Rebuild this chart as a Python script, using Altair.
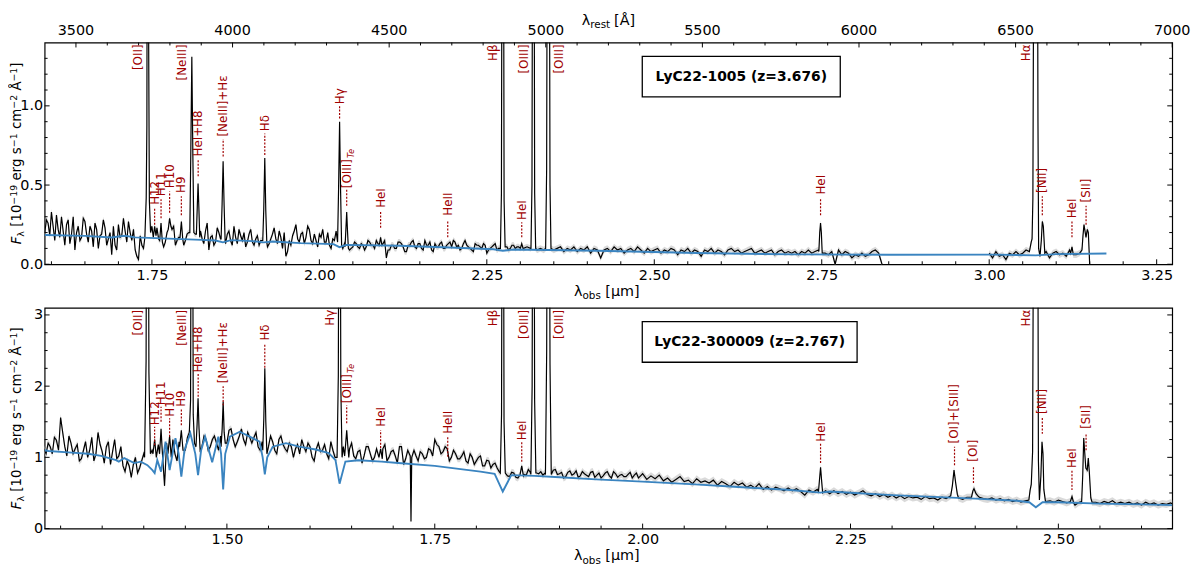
import altair as alt
import pandas as pd

# ---------------- constants / data ----------------
Z_TOP = 3.676
Z_BOT = 2.767
REST_RANGE = [3400.0, 7000.0]
STEP = 0.005
TOP_NAME = "LyC22-1005 (z=3.676)"
BOT_NAME = "LyC22-300009 (z=2.767)"

# ---- top panel (LyC22-1005): observed continuum, two detector segments
top_flux_a_start = 1.590
top_flux_a = [
    0.20, 0.26, 0.33, 0.15, 0.22, 0.30, 0.12, 0.28, 0.19, 0.09,
    0.24, 0.17, 0.27, 0.14, 0.21, 0.26, 0.10, 0.19, 0.23, 0.16,
    0.06, 0.12, 0.25, 0.18, 0.21, 0.27, 0.15, 0.09, 0.03, 0.12,
    0.20, 0.22, 0.24, 0.19, 0.16, 0.22, 0.14, 0.25, 0.22, 0.12,
    0.17, 0.26, 0.15, 0.20, 0.22, 0.19, 0.24, 0.16, 0.21, 0.09,
    0.18, 0.14, 0.20, 0.18, 0.13, 0.21, 0.12, 0.17, 0.22, 0.15,
    0.11, 0.19, 0.14, 0.16, 0.12, 0.18, 0.17, 0.13, 0.19, 0.16,
    0.21, 0.10, 0.05, 0.15, 0.18, 0.25, 0.14, 0.20, 0.17, 0.22,
    0.13, 0.15, 0.19, 0.22, 0.14, 0.12, 0.16, 0.21, 0.12, 0.10,
    0.14, 0.09, 0.11, 0.13, 0.10, 0.12, 0.11, 0.14, 0.12, 0.15,
    0.17, 0.13, 0.04, 0.09, 0.12, 0.10, 0.14, 0.11, 0.08, 0.12,
    0.15, 0.10, 0.13, 0.09, 0.12, 0.14, 0.08, 0.11, 0.13, 0.10,
    0.12, 0.14, 0.15, 0.11, 0.09, 0.13, 0.12, 0.10, 0.08, 0.12,
    0.11, 0.13, 0.07, 0.10, 0.12, 0.09, 0.10, 0.10, 0.11, 0.10,
    0.12, 0.11, 0.12, 0.10, 0.11, 0.10, 0.10, 0.09, 0.10, 0.09,
    0.10, 0.10, 0.09, 0.10, 0.11, 0.08, 0.10, 0.09, 0.11, 0.08,
    0.10, 0.09, 0.11, 0.07, 0.10, 0.09, 0.04, 0.09, 0.10, 0.08,
    0.11, 0.09, 0.10, 0.07, 0.09, 0.10, 0.08, 0.11, 0.09, 0.07,
    0.10, 0.08, 0.09, 0.10, 0.07, 0.09, 0.08, 0.10, 0.09, 0.06,
    0.09, 0.08, 0.10, 0.07, 0.09, 0.08, 0.05, 0.09, 0.08, 0.10,
    0.07, 0.09, 0.08, 0.06, 0.09, 0.10, 0.08, 0.09, 0.07, 0.08,
    0.09, 0.10, 0.07, 0.08, 0.09, 0.07, 0.08, 0.09, 0.06, 0.08,
    0.09, 0.07, 0.08, 0.07, 0.08, 0.06, 0.08, 0.07, 0.09, 0.07,
    0.08, 0.09, 0.08, 0.07, 0.06, 0.08, 0.00, 0.09, 0.06, 0.08,
    0.07, 0.04, 0.06, 0.05, 0.07, 0.05, 0.06, 0.08, 0.09, 0.07,
    0.00,
]
# in-between samples of the noisy blue half of segment A
top_mid_a_start = 1.5925
top_mid_a = [
    0.28, 0.18, 0.24, 0.31, 0.17, 0.21, 0.25, 0.13, 0.30, 0.20,
    0.15, 0.29, 0.19, 0.24, 0.11, 0.22, 0.18, 0.28, 0.12, 0.20,
    0.24, 0.09, 0.17, 0.29, 0.14, 0.20, 0.22, 0.05, 0.18, 0.10,
    0.16, 0.21, 0.13, 0.23, 0.18, 0.11, 0.20, 0.17, 0.24, 0.15,
    0.21, 0.12, 0.19, 0.23, 0.14, 0.18, 0.21, 0.13, 0.26, 0.17,
    0.12, 0.23, 0.16, 0.10, 0.19, 0.15, 0.24, 0.13, 0.18, 0.20,
    0.14, 0.22, 0.12, 0.18, 0.15, 0.20, 0.11, 0.16, 0.23, 0.13,
    0.17, 0.20, 0.08, 0.12, 0.21, 0.16, 0.19, 0.13, 0.24, 0.15,
    0.19, 0.11, 0.17, 0.14, 0.20, 0.10, 0.15, 0.19, 0.08, 0.13,
    0.12, 0.10, 0.14, 0.11, 0.13, 0.09, 0.15, 0.12, 0.10, 0.13,
    0.11, 0.15, 0.09, 0.12, 0.10, 0.14, 0.13, 0.08, 0.12, 0.14,
    0.11, 0.13, 0.10, 0.15, 0.12, 0.09, 0.13, 0.11, 0.14, 0.10,
    0.13, 0.11, 0.14, 0.12, 0.10, 0.15, 0.11, 0.09, 0.13, 0.12,
    0.10, 0.12, 0.09, 0.11, 0.13, 0.10, 0.12, 0.11, 0.09, 0.12,
    0.10, 0.11,
]
top_flux_b_start = 3.000
top_flux_b = [
    0.07, 0.04, 0.08, 0.05, 0.06, 0.03, 0.07, 0.06, 0.08, 0.06,
    0.07, 0.09, 0.08, 0.10, 0.10, 0.08, 0.10, 0.08, 0.04, 0.07,
    0.08, 0.06, 0.07, 0.05, 0.09, 0.08, 0.06, 0.07, 0.12, 0.12,
    0.00,
]
TOP_ERR = 0.02

# emission-line profiles (observed micron, flux)
top_lines = [
    [(1.7395, 0.17), (1.7415, 0.42), (1.7425, 0.88), (1.7432, 3.0), (1.7445, 3.0), (1.7452, 1.36), (1.7462, 0.40), (1.7480, 0.20)],
    [(1.7521, 0.17), (1.7541, 0.24), (1.7561, 0.18)],
    [(1.7616, 0.15), (1.7636, 0.26), (1.7656, 0.14)],
    [(1.7744, 0.22), (1.7764, 0.29), (1.7784, 0.24)],
    [(1.7920, 0.17), (1.7940, 0.27), (1.7960, 0.16)],
    [(1.8066, 0.20), (1.8081, 0.72), (1.8096, 1.31), (1.8111, 0.70), (1.8126, 0.20)],
    [(1.8164, 0.19), (1.8177, 0.36), (1.8189, 0.51), (1.8201, 0.36), (1.8214, 0.17)],
    [(1.8533, 0.16), (1.8548, 0.38), (1.8563, 0.65), (1.8578, 0.37), (1.8593, 0.15)],
    [(1.9155, 0.15), (1.9170, 0.35), (1.9185, 0.67), (1.9200, 0.34), (1.9215, 0.14)],
    [(2.0272, 0.14), (2.0287, 0.48), (2.0302, 0.90), (2.0317, 0.46), (2.0332, 0.12)],
    [(2.0383, 0.11), (2.0396, 0.22), (2.0408, 0.33), (2.0420, 0.21), (2.0433, 0.10)],
    [(2.0894, 0.12), (2.0914, 0.17), (2.0934, 0.12)],
    [(2.2703, 0.10), (2.2718, 0.45), (2.2730, 3.0), (2.2746, 3.0), (2.2758, 0.40), (2.2773, 0.11)],
    [(2.3001, 0.10), (2.3021, 0.13), (2.3041, 0.10)],
    [(2.3159, 0.10), (2.3174, 0.50), (2.3186, 3.0), (2.3202, 3.0), (2.3214, 0.45), (2.3229, 0.10)],
    [(2.3378, 0.10), (2.3393, 0.60), (2.3406, 3.0), (2.3430, 3.0), (2.3443, 0.50), (2.3458, 0.10)],
    [(2.7457, 0.08), (2.7470, 0.20), (2.7482, 0.26), (2.7494, 0.20), (2.7507, 0.07)],
    [(3.0600, 0.08), (3.0627, 0.14), (3.0640, 0.16), (3.0652, 0.41), (3.0672, 3.0), (3.0716, 3.0), (3.0728, 0.90),
     (3.0738, 0.10), (3.0758, 0.05), (3.0778, 0.15), (3.0793, 0.27), (3.0808, 0.24), (3.0830, 0.07)],
    [(3.1216, 0.07), (3.1236, 0.11), (3.1256, 0.06)],
    [(3.1385, 0.09), (3.1400, 0.18), (3.1415, 0.25), (3.1430, 0.21), (3.1445, 0.17), (3.1465, 0.22), (3.1480, 0.20), (3.1492, 0.08)],
]

top_model_w = [1.5898, 1.650, 1.690, 1.700, 1.710, 1.725, 1.775, 1.824, 1.845, 1.856, 1.868, 1.900, 1.917,
               1.930, 1.972, 2.021, 2.030, 2.040, 2.120, 2.194, 2.260, 2.2738, 2.290, 2.416, 2.564, 2.710,
               2.850, 3.007, 3.0696, 3.100, 3.175]
top_model_f = [0.185, 0.179, 0.169, 0.175, 0.180, 0.170, 0.162, 0.154, 0.150, 0.138, 0.152, 0.146, 0.138,
               0.144, 0.133, 0.127, 0.108, 0.122, 0.117, 0.106, 0.095, 0.085, 0.093, 0.085, 0.071, 0.062,
               0.060, 0.061, 0.056, 0.064, 0.068]

# ---- bottom panel (LyC22-300009)
bot_flux_start = 1.280
bot_flux = [
    1.12, 1.20, 1.05, 1.24, 1.56, 1.15, 1.30, 1.05, 1.18, 0.98,
    1.22, 1.10, 0.95, 1.35, 1.08, 1.15, 0.90, 1.25, 1.02, 0.88,
    0.95, 0.72, 1.00, 0.85, 1.05, 0.92, 1.10, 1.02, 1.25, 0.60,
    1.05, 1.25, 0.95, 1.30, 1.10, 1.35, 1.20, 1.30, 1.15, 1.25,
    1.15, 1.30, 1.10, 1.35, 1.20, 1.40, 1.15, 1.30, 1.25, 1.35,
    1.20, 1.35, 1.10, 1.28, 1.15, 1.22, 1.05, 1.30, 1.12, 1.20,
    1.00, 1.18, 1.25, 1.08, 1.15, 0.95, 1.20, 1.10, 1.05, 1.22,
    1.00, 0.85, 1.15, 1.05, 1.20, 0.98, 1.10, 1.02, 1.15, 0.95,
    1.12, 1.05, 1.18, 1.00, 1.10, 0.92, 1.15, 0.98, 1.05, 1.10,
    0.95, 1.05, 1.00, 1.10, 1.25, 1.15, 1.08, 1.12, 1.00, 1.05,
    0.98, 1.08, 0.92, 1.00, 0.95, 1.02, 0.88, 0.95, 0.90, 0.85,
    0.76, 0.80, 0.73, 0.78, 0.71, 0.81, 0.75, 0.79, 0.73, 0.77,
    0.75, 0.80, 0.73, 0.83, 0.77, 0.71, 0.79, 0.75, 0.81, 0.74,
    0.77, 0.73, 0.80, 0.75, 0.71, 0.78, 0.74, 0.80, 0.72, 0.76,
    0.73, 0.79, 0.75, 0.71, 0.77, 0.69, 0.74, 0.70, 0.75, 0.67,
    0.71, 0.65, 0.69, 0.73, 0.66, 0.68, 0.63, 0.70, 0.65, 0.67,
    0.64, 0.68, 0.61, 0.66, 0.63, 0.59, 0.65, 0.61, 0.64, 0.58,
    0.61, 0.57, 0.63, 0.55, 0.59, 0.54, 0.58, 0.56, 0.53, 0.57,
    0.53, 0.56, 0.52, 0.47, 0.54, 0.51, 0.55, 0.50, 0.53, 0.49,
    0.53, 0.49, 0.52, 0.48, 0.51, 0.47, 0.50, 0.53, 0.48, 0.46,
    0.49, 0.45, 0.48, 0.44, 0.47, 0.43, 0.46, 0.42, 0.45, 0.43,
    0.44, 0.41, 0.45, 0.42, 0.43, 0.40, 0.44, 0.42, 0.46, 0.48,
    0.43, 0.41, 0.44, 0.48, 0.46, 0.44, 0.42, 0.41, 0.43, 0.40,
    0.42, 0.39, 0.41, 0.38, 0.40, 0.37, 0.39, 0.36, 0.38, 0.40,
    0.38, 0.36, 0.39, 0.37, 0.40, 0.38, 0.36, 0.39, 0.33, 0.37,
    0.38, 0.36, 0.39, 0.37, 0.35, 0.38, 0.36, 0.39, 0.35, 0.37,
    0.35, 0.37, 0.34, 0.36, 0.33, 0.37, 0.34, 0.36, 0.33, 0.35,
    0.34, 0.36, 0.33,
]
bot_mid_start = 1.2825
bot_mid = [
    1.05, 1.15, 1.28, 1.10, 1.35, 1.02, 1.20, 1.12, 0.95, 1.10,
    1.00, 1.28, 1.05, 1.18, 0.92, 1.22, 1.08, 0.98, 1.15, 0.80,
    0.88, 0.90, 0.78, 0.95, 1.00, 1.15, 0.90, 1.18, 0.85, 1.20,
    1.18, 1.05, 1.22, 1.00, 1.28, 1.12, 1.25, 1.05, 1.30, 1.10,
    1.25, 1.20, 1.30, 1.12, 1.38, 1.25, 1.22, 1.40, 1.18, 1.28,
    1.28, 1.15, 1.22, 1.05, 1.30, 1.10, 1.25, 1.18, 1.08, 1.15,
    1.12, 1.05, 1.15, 1.20, 1.00, 1.12, 1.08, 1.18, 0.98, 1.10,
    1.05, 1.10, 0.95, 1.12, 1.02, 1.08, 0.92, 1.15, 1.05, 1.00,
    1.00, 1.12, 0.95, 1.08, 1.02, 1.15, 0.90, 1.10, 0.95, 1.02,
    1.08, 0.98, 1.12, 1.02, 1.18, 1.05, 1.15, 0.95, 1.10, 0.98,
    1.02, 0.95, 1.05, 0.90, 1.00, 0.88, 0.96, 0.85, 0.92, 0.80,
    0.82, 0.74, 0.79, 0.72, 0.80, 0.76, 0.83, 0.74, 0.78, 0.80,
    0.78, 0.74, 0.82, 0.76, 0.79, 0.73, 0.81, 0.77, 0.72, 0.80,
    0.75, 0.79, 0.72, 0.78, 0.74, 0.80, 0.71, 0.77, 0.75, 0.73,
    0.76, 0.71, 0.78, 0.74,
]
BOT_ERR = 0.05

bot_lines = [
    [(1.4010, 1.00), (1.4028, 2.35), (1.4036, 6.0), (1.4054, 6.0), (1.4062, 2.20), (1.4080, 1.05)],
    [(1.4111, 1.05), (1.4131, 1.25), (1.4151, 1.00)],
    [(1.4190, 1.05), (1.4208, 1.40), (1.4222, 1.10)],
    [(1.4291, 1.05), (1.4311, 1.30), (1.4331, 1.00)],
    [(1.4432, 1.15), (1.4452, 1.38), (1.4472, 1.10)],
    [(1.4548, 1.35), (1.4563, 1.80), (1.4572, 6.0), (1.4586, 6.0), (1.4595, 1.60), (1.4610, 1.20)],
    [(1.4628, 1.15), (1.4641, 1.45), (1.4653, 1.83), (1.4665, 1.40), (1.4678, 1.10)],
    [(1.4930, 1.15), (1.4943, 1.40), (1.4955, 1.78), (1.4967, 1.35), (1.4980, 1.20)],
    [(1.5431, 1.10), (1.5444, 1.55), (1.5456, 2.25), (1.5468, 1.50), (1.5481, 1.05)],
    [(1.6325, 1.00), (1.6340, 2.15), (1.6349, 6.0), (1.6361, 6.0), (1.6370, 2.00), (1.6385, 1.00)],
    [(1.6416, 1.02), (1.6429, 1.20), (1.6441, 1.38), (1.6453, 1.18), (1.6466, 1.00)],
    [(1.6829, 1.00), (1.6849, 1.12), (1.6869, 0.98)],
    [(1.7205, 1.02), (1.7214, 0.10), (1.7223, 1.00)],
    [(1.8288, 0.78), (1.8303, 1.60), (1.8311, 6.0), (1.8325, 6.0), (1.8333, 1.50), (1.8348, 0.78)],
    [(1.8526, 0.76), (1.8546, 0.88), (1.8566, 0.74)],
    [(1.8656, 0.76), (1.8671, 2.00), (1.8679, 6.0), (1.8693, 6.0), (1.8701, 1.80), (1.8716, 0.78)],
    [(1.8831, 0.76), (1.8846, 2.50), (1.8855, 6.0), (1.8877, 6.0), (1.8886, 2.30), (1.8901, 0.76)],
    [(2.2115, 0.52), (2.2128, 0.70), (2.2140, 0.86), (2.2152, 0.68), (2.2165, 0.50)],
    [(2.3705, 0.46), (2.3725, 0.60), (2.3745, 0.82), (2.3765, 0.64), (2.3785, 0.48)],
    [(2.3955, 0.44), (2.3972, 0.53), (2.3985, 0.56), (2.4010, 0.49), (2.4040, 0.45)],
    [(2.4645, 0.40), (2.4660, 0.54), (2.4674, 0.62), (2.4690, 1.08), (2.4705, 6.0), (2.4750, 6.0), (2.4760, 0.95),
     (2.4772, 0.40), (2.4790, 0.75), (2.4803, 1.22), (2.4815, 1.05), (2.4825, 0.55), (2.4845, 0.38)],
    [(2.5144, 0.38), (2.5164, 0.45), (2.5184, 0.36)],
    [(2.5280, 0.38), (2.5293, 0.75), (2.5305, 1.27), (2.5318, 1.05), (2.5330, 0.85), (2.5347, 0.82),
     (2.5360, 0.99), (2.5372, 0.80), (2.5390, 0.43), (2.5405, 0.37)],
]

bot_model_w = [1.2808, 1.2854, 1.3092, 1.3330, 1.3488, 1.3667, 1.3700, 1.3766, 1.3885, 1.3964, 1.4044, 1.4104,
               1.4131, 1.4163, 1.4208, 1.4262, 1.4311, 1.4381, 1.4420, 1.4452, 1.4490, 1.4560, 1.4620, 1.4653,
               1.4690, 1.4738, 1.4823, 1.4897, 1.4930, 1.4955, 1.4980, 1.5036, 1.5155, 1.5274, 1.5393, 1.5430,
               1.5456, 1.5485, 1.5551, 1.5710, 1.5869, 1.6068, 1.6226, 1.6306, 1.6355, 1.6425, 1.6583, 1.6861,
               1.7060, 1.7500, 1.8050, 1.8220, 1.8318, 1.8420, 1.8700, 1.9000, 1.9440, 2.0000, 2.0630, 2.1200,
               2.1740, 2.2140, 2.2250, 2.3000, 2.4000, 2.4500, 2.4650, 2.4729, 2.4810, 2.5000, 2.5500, 2.6000,
               2.6369]
bot_model_f = [1.10, 1.09, 1.07, 1.05, 1.02, 0.96, 0.94, 0.99, 0.92, 0.94, 0.89, 0.82,
               0.78, 0.96, 0.80, 1.22, 0.82, 1.27, 1.05, 0.73, 1.10, 1.34, 1.05, 0.75,
               1.10, 1.29, 0.93, 1.29, 1.05, 0.55, 1.05, 1.29, 1.36, 1.29, 1.22, 1.00,
               0.76, 1.00, 1.15, 1.20, 1.15, 1.11, 1.06, 0.96, 0.63, 0.94, 0.96, 0.94,
               0.92, 0.88, 0.80, 0.77, 0.52, 0.75, 0.74, 0.72, 0.69, 0.66, 0.62, 0.58,
               0.545, 0.505, 0.52, 0.47, 0.42, 0.39, 0.37, 0.30, 0.37, 0.37, 0.35, 0.34,
               0.33]

# ---- line annotations: (label, rest vacuum wavelength [A], text start flux, dotted low, dotted high)
top_ann = [
    ("H12", 3751.2, 0.375, 0.25, 0.355),
    ("H11", 3771.7, 0.43, 0.29, 0.41),
    ("H10", 3798.98, 0.48, 0.325, 0.46),
    ("H9", 3836.5, 0.45, 0.31, 0.43),
    ("HeI+H8", 3890.2, 0.68, 0.556, 0.656),
    ("[NeIII]+Hε", 3970.0, 0.806, 0.68, 0.79),
    ("Hδ", 4102.9, 0.84, 0.69, 0.825),
    ("Hγ", 4341.7, 1.01, 0.92, 1.0),
    ("[OIII]", 4364.4, 0.48, 0.37, 0.47),
    ("HeI", 4472.7, 0.356, 0.23, 0.34),
    ("HeII", 4687.0, 0.306, 0.17, 0.28),
    ("HeI", 4923.3, 0.28, 0.17, 0.265),
    ("HeI", 5877.3, 0.44, 0.31, 0.41),
    ("[NII]", 6585.3, 0.45, 0.31, 0.43),
    ("HeI", 6680.0, 0.29, 0.17, 0.28),
    ("[SII]", 6725.0, 0.39, 0.25, 0.37),
]
# strong lines labelled at the top edge: (label, rest, side)
top_strong = [("[OII]", 3728.5, "L"), ("[NeIII]", 3869.9, "L"), ("Hβ", 4862.7, "L"),
              ("[OIII]", 4960.3, "L"), ("[OIII]", 5008.2, "R"), ("Hα", 6564.6, "L")]

bot_ann = [
    ("H12", 3751.2, 1.45, 1.17, 1.43),
    ("H11", 3771.7, 1.73, 1.50, 1.71),
    ("H10", 3798.98, 1.57, 1.29, 1.55),
    ("H9", 3836.5, 1.71, 1.45, 1.69),
    ("HeI+H8", 3890.2, 2.19, 1.85, 2.17),
    ("[NeIII]+Hε", 3970.0, 2.04, 1.73, 2.0),
    ("Hδ", 4102.9, 2.64, 2.26, 2.59),
    ("[OIII]", 4364.4, 1.76, 1.48, 1.73),
    ("HeI", 4472.7, 1.43, 1.13, 1.38),
    ("HeII", 4687.0, 1.33, 1.01, 1.29),
    ("HeI", 4923.3, 1.24, 0.94, 1.22),
    ("HeI", 5877.3, 1.22, 0.92, 1.19),
    ("[OI]+[SIII]", 6305.0, 1.195, 0.89, 1.15),
    ("[OI]", 6365.5, 0.94, 0.64, 0.87),
    ("[NII]", 6585.3, 1.61, 1.33, 1.57),
    ("HeI", 6680.0, 0.85, 0.54, 0.82),
    ("[SII]", 6725.0, 1.40, 1.10, 1.33),
]
bot_strong = [("[OII]", 3728.5, "L"), ("[NeIII]", 3869.9, "L"), ("Hγ", 4341.7, "L"), ("Hβ", 4862.7, "L"),
              ("[OIII]", 4960.3, "L"), ("[OIII]", 5008.2, "R"), ("Hα", 6564.6, "L")]

# ---- ticks
top_x_major = [1.75, 2.00, 2.25, 2.50, 2.75, 3.00, 3.25]
top_x_minor = [1.60, 1.65, 1.70, 1.80, 1.85, 1.90, 1.95, 2.05, 2.10, 2.15, 2.20, 2.30, 2.35, 2.40, 2.45,
               2.55, 2.60, 2.65, 2.70, 2.80, 2.85, 2.90, 2.95, 3.05, 3.10, 3.15, 3.20]
rest_major = [3500, 4000, 4500, 5000, 5500, 6000, 6500, 7000]
rest_minor = [3600, 3700, 3800, 3900, 4100, 4200, 4300, 4400, 4600, 4700, 4800, 4900, 5100, 5200, 5300,
              5400, 5600, 5700, 5800, 5900, 6100, 6200, 6300, 6400, 6600, 6700, 6800, 6900]
top_y_major = [0.0, 0.5, 1.0]
top_y_minor = [0.1, 0.2, 0.3, 0.4, 0.6, 0.7, 0.8, 0.9, 1.1, 1.2, 1.3]
bot_x_major = [1.50, 1.75, 2.00, 2.25, 2.50]
bot_x_minor = [1.30, 1.35, 1.40, 1.45, 1.55, 1.60, 1.65, 1.70, 1.80, 1.85, 1.90, 1.95, 2.05, 2.10, 2.15,
               2.20, 2.30, 2.35, 2.40, 2.45, 2.55, 2.60]
bot_y_major = [0, 1, 2, 3]
bot_y_minor = [0.25, 0.5, 0.75, 1.25, 1.5, 1.75, 2.25, 2.5, 2.75]

# y-axis title pieces: (text, font size, italic, perpendicular shift, offset along the text)
YTITLE = [("F", 13.5, True, 0, 0.0), ("λ", 9.5, False, 3, 7.8), ("[10", 13.5, False, 0, 17.7),
          ("−19", 9.5, False, -4, 40.1), ("erg", 13.5, False, 0, 64.4), ("s", 13.5, False, 0, 91.1),
          ("−1", 9.5, False, -4, 98.1), ("cm", 13.5, False, 0, 116.4), ("−2", 9.5, False, -4, 137.0),
          ("Å", 13.5, False, 0, 155.3), ("−1", 9.5, False, -4, 164.5), ("]", 13.5, False, 0, 178.5)]
YTITLE_LEN = 183.8

# ---------------- styling ----------------
W = 1139
RED = "#a00000"
BLUE = "#3a84c0"
FONT = "DejaVu Sans"
TICK_FS = 14.5


def build_spectrum(segments, lines):
    rows = []
    for seg, grids in enumerate(segments):
        pts = []
        for start, fl in grids:
            pts += [(round(start + i * STEP, 4), f) for i, f in enumerate(fl)]
        lo_seg = min(p[0] for p in pts)
        hi_seg = max(p[0] for p in pts)
        for prof in lines:
            lo = min(p[0] for p in prof)
            hi = max(p[0] for p in prof)
            if hi < lo_seg or lo > hi_seg:
                continue
            pts = [p for p in pts if not (lo - 0.0005 <= p[0] <= hi + 0.0005)]
            pts += list(prof)
        pts.sort()
        rows += [{"w": w, "f": f, "seg": seg} for w, f in pts]
    return pd.DataFrame(rows)


def txt(s, x, y, size, **kw):
    return alt.Chart(pd.DataFrame({"t": [s]})).mark_text(
        fontSize=size, font=FONT, color="black", **kw).encode(text="t:N", x=alt.value(x), y=alt.value(y))


def sub_title(y, main, sub, tail, widths, size=14.5, subsize=10.5):
    # main symbol + subscript + tail, centred on the plot
    total = widths[0] + widths[1] + widths[2] + widths[3]
    start = W / 2 - total / 2
    return [
        txt(main, start, y, size, align="left", baseline="alphabetic"),
        txt(sub, start + widths[0], y + 3.5, subsize, align="left", baseline="alphabetic"),
        txt(tail, start + widths[0] + widths[1] + widths[2], y, size, align="left", baseline="alphabetic"),
    ]


def y_title(H):
    y0 = H / 2 + YTITLE_LEN / 2
    out = []
    for s, size, ital, shift, off in YTITLE:
        kw = dict(angle=270, align="left", baseline="alphabetic", dx=off, dy=shift)
        if ital:
            kw["fontStyle"] = "italic"
        out.append(txt(s, -23.5, y0, size, **kw))
    return out


def panel(z, segments, lines, err, mw, mf, ann, strong, ymax, ymaj, ymin_, yfmt,
          xmaj, xmin_, name, box_w, H, rest_axis):
    xdom = [REST_RANGE[0] * (1 + z) / 1e4, REST_RANGE[1] * (1 + z) / 1e4]
    xs = alt.Scale(domain=xdom, nice=False, zero=False)
    ys = alt.Scale(domain=[0, ymax], nice=False, zero=False)
    X = lambda f: alt.X(f, scale=xs, axis=None)
    Y = lambda f: alt.Y(f, scale=ys, axis=None)

    spec = build_spectrum(segments, lines)
    spec["lo"] = spec["f"] - err
    spec["hi"] = spec["f"] + err

    band = alt.Chart(spec).mark_area(color="#d4d4d4", clip=True, opacity=0.85).encode(
        x=X("w:Q"), y=Y("lo:Q"), y2="hi:Q", detail="seg:N")
    line = alt.Chart(spec).mark_line(color="black", strokeWidth=1.2, clip=True).encode(
        x=alt.X("w:Q", scale=xs, axis=alt.Axis(
            values=xmaj, format=".2f", title=None, ticks=False, tickSize=0, domain=False, grid=False,
            labelPadding=4, labelFontSize=TICK_FS, labelFont=FONT, labelColor="black",
            labelFlush=False, labelOverlap=False)),
        y=alt.Y("f:Q", scale=ys, axis=alt.Axis(
            values=ymaj, format=yfmt, title=None, ticks=False, tickSize=0, domain=False, grid=False,
            labelPadding=2, labelFontSize=TICK_FS, labelFont=FONT, labelColor="black",
            labelFlush=False, labelOverlap=False)),
        detail="seg:N")
    model = alt.Chart(pd.DataFrame({"w": mw, "f": mf})).mark_line(
        color=BLUE, strokeWidth=1.9, clip=True).encode(x=X("w:Q"), y=Y("f:Q"))

    layers = [band, line, model]

    # inward ticks
    def xticks(vals, top, length):
        d = pd.DataFrame({"v": vals})
        if top:
            yy, yy2 = 0, length
        else:
            yy, yy2 = H, H - length
        return alt.Chart(d).mark_rule(color="black", strokeWidth=1).encode(
            x=X("v:Q"), y=alt.value(yy), y2=alt.value(yy2))

    def yticks(vals, length):
        d = pd.DataFrame({"v": vals})
        return [alt.Chart(d).mark_rule(color="black", strokeWidth=1).encode(
                    y=Y("v:Q"), x=alt.value(0), x2=alt.value(length)),
                alt.Chart(d).mark_rule(color="black", strokeWidth=1).encode(
                    y=Y("v:Q"), x=alt.value(W), x2=alt.value(W - length))]

    layers += [xticks(xmaj, False, 5), xticks(xmin_, False, 3)]
    layers += yticks(ymaj, 5) + yticks(ymin_, 3)

    if rest_axis:
        rmaj = pd.DataFrame({"r": rest_major, "w": [r * (1 + z) / 1e4 for r in rest_major],
                             "t": [str(r) for r in rest_major]})
        rmin = pd.DataFrame({"r": rest_minor, "w": [r * (1 + z) / 1e4 for r in rest_minor]})
        layers += [
            alt.Chart(rmaj).mark_rule(color="black", strokeWidth=1).encode(
                x=X("w:Q"), y=alt.value(0), y2=alt.value(5)),
            alt.Chart(rmin).mark_rule(color="black", strokeWidth=1).encode(
                x=X("w:Q"), y=alt.value(0), y2=alt.value(3)),
            alt.Chart(rmaj).mark_text(fontSize=TICK_FS, font=FONT, baseline="alphabetic", align="center",
                                      color="black").encode(x=X("w:Q"), y=alt.value(-8), text="t:N"),
        ]
        layers += sub_title(-18, "λ", "rest", "[Å]", widths=(8.6, 19.4, 4.6, 21.2))

    # line annotations
    adf = pd.DataFrame(ann, columns=["label", "rest", "t", "lo", "hi"])
    adf["w"] = adf["rest"] * (1 + z) / 1e4
    layers += [
        alt.Chart(adf).mark_rule(color=RED, strokeWidth=1.2, strokeDash=[2, 1.5]).encode(
            x=X("w:Q"), y=Y("lo:Q"), y2="hi:Q"),
        alt.Chart(adf).mark_text(angle=270, align="left", baseline="middle", fontSize=12,
                                 font=FONT, color=RED).encode(x=X("w:Q"), y=Y("t:Q"), text="label:N"),
        alt.Chart(adf[adf["rest"] == 4364.4]).mark_text(
            angle=270, align="left", baseline="middle", fontSize=8.5, font=FONT, color=RED,
            fontStyle="italic", dx=30.5, dy=4).encode(x=X("w:Q"), y=Y("t:Q"), text=alt.value("Te")),
    ]
    sdf = pd.DataFrame(strong, columns=["label", "rest", "side"])
    sdf["w"] = sdf["rest"] * (1 + z) / 1e4
    for side, off in (("L", -9.5), ("R", 11)):
        layers.append(alt.Chart(sdf[sdf["side"] == side]).mark_text(
            angle=270, align="right", baseline="middle", fontSize=12, font=FONT, color=RED, dy=off).encode(
            x=X("w:Q"), y=alt.value(2), text="label:N"))

    # name box
    bx = 603.7
    layers += [
        alt.Chart(pd.DataFrame({"a": [0]})).mark_rect(fill="white", stroke="black", strokeWidth=1.3).encode(
            x=alt.value(bx), x2=alt.value(bx + box_w), y=alt.value(14), y2=alt.value(55)),
        txt(name, bx + box_w / 2, 35, 14, align="center", baseline="middle", fontWeight="bold"),
    ]

    # axis titles
    layers += y_title(H)
    layers += sub_title(H + 32, "λ", "obs", "[μm]", widths=(8.6, 18.5, 4.6, 37.9))

    return alt.layer(*layers).resolve_axis(x="independent", y="independent").properties(width=W, height=H)


top = panel(Z_TOP,
            [[(top_flux_a_start, top_flux_a), (top_mid_a_start, top_mid_a)], [(top_flux_b_start, top_flux_b)]],
            top_lines, TOP_ERR, top_model_w, top_model_f,
            top_ann, top_strong, 1.4, top_y_major, top_y_minor, ".1f", top_x_major, top_x_minor,
            TOP_NAME, 200, 224, True)
bot = panel(Z_BOT, [[(bot_flux_start, bot_flux), (bot_mid_start, bot_mid)]],
            bot_lines, BOT_ERR, bot_model_w, bot_model_f,
            bot_ann, bot_strong, 3.1, bot_y_major, bot_y_minor, "d", bot_x_major, bot_x_minor,
            BOT_NAME, 217, 223, False)

chart = alt.vconcat(top, bot, spacing=44, bounds="flush").resolve_scale(
    x="independent", y="independent").properties(
    padding={"left": 0, "top": 1, "right": 0, "bottom": 0}).configure(
    font=FONT).configure_view(stroke="black", strokeWidth=1.2)

chart.save("out.html", embed_options={"renderer": "svg", "actions": False})
